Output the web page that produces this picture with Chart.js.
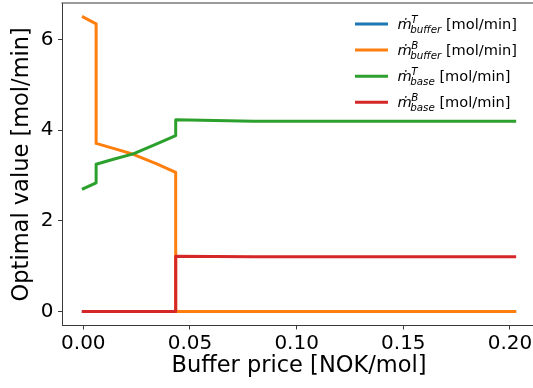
<!DOCTYPE html>
<html>
<head>
<meta charset="utf-8">
<script src="https://cdn.jsdelivr.net/npm/chart.js@4.4.0/dist/chart.umd.min.js"></script>
<style>
  body { margin: 0; background: #fff; overflow: hidden; }
</style>
</head>
<body>
<canvas id="optChart" width="540" height="388"></canvas>
<script>
// buffer price sweep, repeated x where the optimum jumps
const price = [0, 0.006, 0.006, 0.0141, 0.0234, 0.0344, 0.0433, 0.0433, 0.08, 0.2022];
const bufferTop = [0, 0, 0, 0, 0, 0, 0, 0, 0, 0];
const bufferBottom = [6.5, 6.35, 3.71, 3.60, 3.47, 3.26, 3.07, 0, 0, 0];
const baseTop = [2.71, 2.84, 3.25, 3.36, 3.48, 3.70, 3.88, 4.23, 4.2, 4.2];
const baseBottom = [0, 0, 0, 0, 0, 0, 0, 1.22, 1.21, 1.21];
const xTicks = [0, 0.05, 0.1, 0.15, 0.2];
const yTicks = [0, 2, 4, 6];
const legendSup = ['T', 'B', 'T', 'B'];
const legendSub = ['buffer', 'buffer', 'base', 'base'];
const legendUnit = ' [mol/min]';
const colors = ['#1f77b4', '#ff7f0e', '#2ca02c', '#d62728'];

const FONT = 'DejaVu Sans, sans-serif';
const AXIS = '#3a3a3a';

function pts(ys) {
  return ys.map((y, i) => ({ x: price[i], y: y }));
}

const series = [bufferTop, bufferBottom, baseTop, baseBottom];

// top/right spines plus the legend with sub/superscripts
const extrasPlugin = {
  id: 'extras',
  afterDraw(chart) {
    const { ctx, chartArea: a } = chart;
    ctx.save();
    ctx.fillStyle = AXIS;
    ctx.fillRect(a.left - 0.5, a.top - 0.5, a.right - a.left + 1, 1);
    ctx.fillRect(a.right - 0.5, a.top - 0.5, 1, a.bottom - a.top + 1);

    let y = 24;
    for (let i = 0; i < series.length; i++) {
      ctx.strokeStyle = colors[i];
      ctx.lineWidth = 3;
      ctx.beginPath();
      ctx.moveTo(355, y);
      ctx.lineTo(388, y);
      ctx.stroke();

      let x = 397.5;
      ctx.fillStyle = '#000';
      ctx.textBaseline = 'alphabetic';
      ctx.font = 'italic 14.6px ' + FONT;
      ctx.fillText('\u1E41', x, y + 4.5);
      x += ctx.measureText('\u1E41').width - 1.5;
      ctx.font = 'italic 10.3px ' + FONT;
      ctx.fillText(legendSup[i], x + 1, y - 1.5);
      ctx.fillText(legendSub[i], x, y + 8.5);
      x += ctx.measureText(legendSub[i]).width;
      ctx.font = '14.6px ' + FONT;
      ctx.fillText(legendUnit, x, y + 4.5);
      y += 26.1;
    }
    ctx.restore();
  }
};

new Chart(document.getElementById('optChart'), {
  type: 'line',
  data: {
    datasets: series.map((ys, i) => ({
      data: pts(ys),
      order: series.length - i,
      borderColor: colors[i],
      backgroundColor: colors[i],
      borderWidth: 3,
      pointRadius: 0,
      tension: 0,
      fill: false,
      borderJoinStyle: 'round',
      borderCapStyle: 'square'
    }))
  },
  options: {
    responsive: false,
    animation: false,
    events: [],
    layout: { padding: { top: 3, right: 4, left: 0, bottom: 0 } },
    plugins: { legend: { display: false }, tooltip: { enabled: false } },
    scales: {
      x: {
        type: 'linear',
        min: -0.01,
        max: 0.2122,
        afterBuildTicks: s => { s.ticks = xTicks.map(v => ({ value: v })); },
        afterFit: s => { s.height = 62.5; s.paddingLeft = 0; s.paddingRight = 0; },
        grid: { drawOnChartArea: false, tickLength: 4, color: AXIS },
        border: { color: AXIS },
        ticks: {
          color: '#000',
          padding: 2,
          maxRotation: 0,
          font: { family: FONT, size: 20 },
          callback: v => v.toFixed(2)
        },
        title: {
          display: true,
          text: 'Buffer price [NOK/mol]',
          color: '#000',
          font: { family: FONT, size: 22.5 },
          padding: { top: 0, bottom: 8 }
        }
      },
      y: {
        min: -0.31,
        max: 6.81,
        afterBuildTicks: s => { s.ticks = yTicks.map(v => ({ value: v })); },
        afterFit: s => { s.width = 62; s.paddingTop = 0; s.paddingBottom = 0; },
        grid: { drawOnChartArea: false, tickLength: 4, color: AXIS },
        border: { color: AXIS },
        ticks: {
          color: '#000',
          padding: 4.5,
          font: { family: FONT, size: 20 }
        },
        title: {
          display: true,
          text: 'Optimal value [mol/min]',
          color: '#000',
          font: { family: FONT, size: 22.5 },
          padding: { top: 9, bottom: 0 }
        }
      }
    }
  },
  plugins: [extrasPlugin]
});
</script>
</body>
</html>
